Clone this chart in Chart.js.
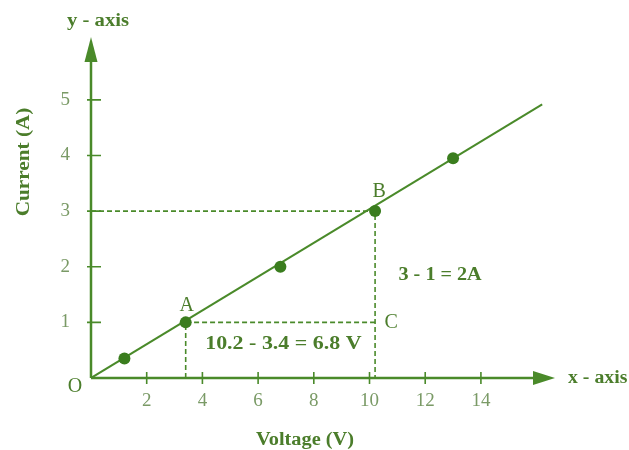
<!DOCTYPE html>
<html>
<head>
<meta charset="utf-8">
<script src="https://cdn.jsdelivr.net/npm/chart.js@4.4.1/dist/chart.umd.min.js"></script>
<style>
    html, body { margin: 0; padding: 0; background: #ffffff; }
    #myChart { display: block; }
</style>
</head>
<body>
<canvas id="myChart" width="629" height="450"></canvas>
<script>
// measured points (voltage in V, current in A)
const pointVoltage = [1.2, 3.4, 6.8, 10.2, 13.0];
const pointCurrent = [0.35, 1, 2, 3, 3.95];

// the straight line drawn through them
const lineVoltage = [0, 16.2];
const lineCurrent = [0, 4.92];

// dashed construction lines: B across to y axis and down, A down and across to C
const dashBVoltage = [0, 10.2, 10.2];
const dashBCurrent = [3, 3, 0];
const dashAVoltage = [3.4, 3.4, 10.2];
const dashACurrent = [0, 1, 1];

const xTicks = [2, 4, 6, 8, 10, 12, 14];
const yTicks = [1, 2, 3, 4, 5];

const green = '#4a8a2a';
const dotGreen = '#3a7d1e';
const textGreen = '#4b7d2b';
const tickGreen = '#7a9a66';

function toPoints(xs, ys) {
    return xs.map((x, i) => ({ x: x, y: ys[i] }));
}

function drawText(ctx, text, x, y, font, color, stretch, angle) {
    ctx.save();
    ctx.translate(x, y);
    if (angle) ctx.rotate(angle);
    ctx.scale(stretch || 1, 1);
    ctx.font = font;
    ctx.fillStyle = color;
    ctx.textAlign = 'center';
    ctx.textBaseline = 'middle';
    ctx.fillText(text, 0, 0);
    ctx.restore();
}

const axesPlugin = {
    id: 'axesPlugin',
    beforeDatasetsDraw(chart) {
        const ctx = chart.ctx;
        const xs = chart.scales.x;
        const ys = chart.scales.y;
        const x0 = xs.getPixelForValue(0);
        const y0 = ys.getPixelForValue(0);
        const xEnd = xs.getPixelForValue(xs.max);
        const yEnd = ys.getPixelForValue(ys.max);

        ctx.save();
        ctx.strokeStyle = green;
        ctx.fillStyle = green;
        ctx.lineWidth = 2.5;

        // axis lines
        ctx.beginPath();
        ctx.moveTo(x0, y0);
        ctx.lineTo(xEnd - 18, y0);
        ctx.moveTo(x0, y0);
        ctx.lineTo(x0, yEnd + 20);
        ctx.stroke();

        // arrow heads
        ctx.beginPath();
        ctx.moveTo(xEnd, y0);
        ctx.lineTo(xEnd - 22, y0 - 7);
        ctx.lineTo(xEnd - 22, y0 + 7);
        ctx.closePath();
        ctx.fill();
        ctx.beginPath();
        ctx.moveTo(x0, yEnd);
        ctx.lineTo(x0 - 6.5, yEnd + 25);
        ctx.lineTo(x0 + 6.5, yEnd + 25);
        ctx.closePath();
        ctx.fill();

        // tick marks crossing the axes
        ctx.lineWidth = 1.6;
        ctx.beginPath();
        xTicks.forEach(v => {
            const px = xs.getPixelForValue(v);
            ctx.moveTo(px, y0 - 6);
            ctx.lineTo(px, y0 + 6);
        });
        yTicks.forEach(v => {
            const py = ys.getPixelForValue(v);
            ctx.moveTo(x0 - 4, py);
            ctx.lineTo(x0 + 10, py);
        });
        ctx.stroke();
        ctx.restore();
    },
    afterDatasetsDraw(chart) {
        const ctx = chart.ctx;
        const xs = chart.scales.x;
        const ys = chart.scales.y;
        const px = v => xs.getPixelForValue(v);
        const py = v => ys.getPixelForValue(v);
        const bold = 'bold 18px "Liberation Serif", "DejaVu Serif", serif';
        const plain = '20px "Liberation Serif", "DejaVu Serif", serif';

        drawText(ctx, 'y - axis', px(0) + 7, 21, bold, textGreen, 1.15);
        ctx.save();
        ctx.font = bold;
        ctx.fillStyle = textGreen;
        ctx.textAlign = 'left';
        ctx.textBaseline = 'middle';
        ctx.translate(px(xs.max) + 13, py(0));
        ctx.scale(1.1, 1);
        ctx.fillText('x - axis', 0, 0);
        ctx.restore();

        drawText(ctx, 'Current (A)', 24, 162, bold, textGreen, 1.18, -Math.PI / 2);
        drawText(ctx, 'Voltage (V)', 305, 440, bold, textGreen, 1.13);

        drawText(ctx, '10.2 - 3.4 = 6.8 V', (px(3.4) + px(10.2)) / 2 + 3, py(1) + 22, bold, textGreen, 1.22);
        drawText(ctx, '3 - 1 = 2A', px(10.2) + 65, (py(1) + py(3)) / 2 + 9, bold, textGreen, 1.12);

        drawText(ctx, 'A', px(3.4) + 1, py(1) - 17, plain, textGreen, 1);
        drawText(ctx, 'B', px(10.2) + 4, py(3) - 19, plain, textGreen, 1);
        drawText(ctx, 'C', px(10.2) + 16, py(1), plain, textGreen, 1);
        drawText(ctx, 'O', px(0) - 16, py(0) + 9, plain, textGreen, 1);
    }
};

let ctx = document.getElementById('myChart').getContext('2d');
let myChart = new Chart(ctx, {
    type: 'scatter',
    data: {
        datasets: [
            {
                label: 'Readings',
                data: toPoints(pointVoltage, pointCurrent),
                showLine: false,
                pointRadius: 6,
                pointBackgroundColor: dotGreen,
                pointBorderColor: dotGreen,
                pointBorderWidth: 0,
                order: 1
            },
            {
                label: 'V-I line',
                data: toPoints(lineVoltage, lineCurrent),
                showLine: true,
                borderColor: green,
                borderWidth: 2,
                pointRadius: 0,
                order: 2
            },
            {
                label: 'B construction',
                data: toPoints(dashBVoltage, dashBCurrent),
                showLine: true,
                borderColor: green,
                borderWidth: 1.6,
                borderDash: [5, 3],
                pointRadius: 0,
                order: 3
            },
            {
                label: 'A construction',
                data: toPoints(dashAVoltage, dashACurrent),
                showLine: true,
                borderColor: green,
                borderWidth: 1.6,
                borderDash: [5, 3],
                pointRadius: 0,
                order: 3
            }
        ]
    },
    options: {
        responsive: false,
        animation: false,
        events: [],
        layout: {
            padding: { left: 0, top: 37, right: 74, bottom: 32 }
        },
        plugins: {
            legend: { display: false },
            tooltip: { enabled: false }
        },
        scales: {
            x: {
                type: 'linear',
                min: 0,
                max: 16.66,
                grid: { display: false, drawTicks: false },
                border: { display: false },
                afterFit: scale => { scale.height = 40; },
                afterBuildTicks: scale => { scale.ticks = xTicks.map(v => ({ value: v })); },
                ticks: {
                    padding: 12,
                    color: tickGreen,
                    font: { family: '"Liberation Serif", serif', size: 19 }
                }
            },
            y: {
                type: 'linear',
                min: 0,
                max: 6.13,
                grid: { display: false, drawTicks: false },
                border: { display: false },
                afterFit: scale => { scale.width = 91; },
                afterBuildTicks: scale => { scale.ticks = yTicks.map(v => ({ value: v })); },
                ticks: {
                    padding: 21,
                    color: tickGreen,
                    font: { family: '"Liberation Serif", serif', size: 19 }
                }
            }
        }
    },
    plugins: [axesPlugin]
});
</script>
</body>
</html>
